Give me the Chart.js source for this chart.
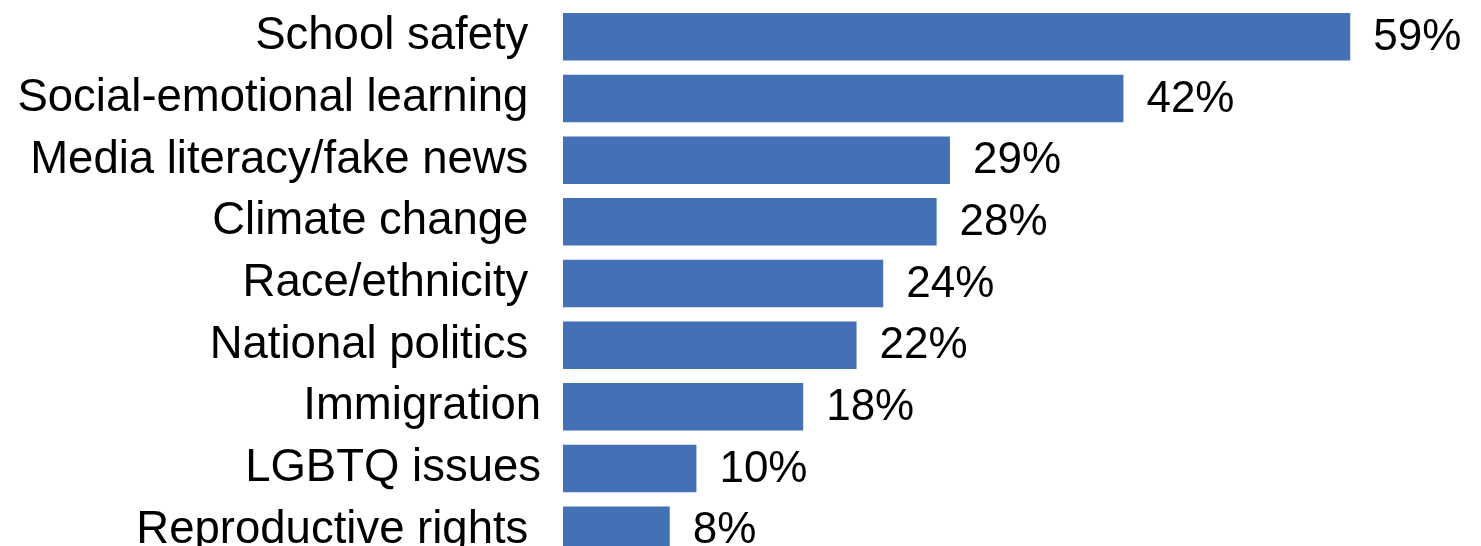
<!DOCTYPE html>
<html lang="en">
<head>
  <meta charset="UTF-8">
  <title>Topics</title>
  <script src="https://cdn.jsdelivr.net/npm/chart.js"></script>
  <style>
    html, body {
      margin: 0;
      padding: 0;
      background: #fff;
      overflow: hidden;
    }
    canvas {
      display: block;
    }
  </style>
</head>
<body>
  <canvas id="topicChart" width="1481" height="561"></canvas>

  <script>
    // some labels keep a trailing space, so they sit a little further left
    const topics = [
      'School safety ',
      'Social-emotional learning ',
      'Media literacy/fake news ',
      'Climate change ',
      'Race/ethnicity ',
      'National politics ',
      'Immigration',
      'LGBTQ issues',
      'Reproductive rights '
    ];
    const shares = [59, 42, 29, 28, 24, 22, 18, 10, 8];
    const xMax = 68.8;

    const barBlue = '#4470b6';
    const fontFamily = '"Liberation Sans", Arial, sans-serif';

    // percentage printed to the right of each bar
    const valueLabels = {
      id: 'valueLabels',
      afterDatasetsDraw(chart) {
        const ctx = chart.ctx;
        const meta = chart.getDatasetMeta(0);
        ctx.save();
        ctx.font = '44px ' + fontFamily;
        ctx.fillStyle = '#000';
        ctx.textAlign = 'left';
        ctx.textBaseline = 'middle';
        meta.data.forEach((bar, i) => {
          ctx.fillText(shares[i] + '%', bar.x + 23, bar.y + 1);
        });
        ctx.restore();
      }
    };

    new Chart(topicChart, {
      type: 'bar',
      data: {
        labels: topics,
        datasets: [{
          data: shares,
          backgroundColor: barBlue,
          borderWidth: 0,
          categoryPercentage: 1,
          barPercentage: 0.77
        }]
      },
      options: {
        indexAxis: 'y',
        responsive: false,
        animation: false,
        layout: { padding: { top: 6, right: 0, bottom: 0, left: 0 } },
        plugins: {
          legend: { display: false },
          tooltip: { enabled: false }
        },
        scales: {
          x: {
            display: false,
            min: 0,
            max: xMax
          },
          y: {
            afterFit(scale) {
              // fixed label column, and no extra room for the big tick font
              scale.width = 563;
              scale.paddingTop = 0;
              scale.paddingBottom = 0;
            },
            grid: { display: false, drawTicks: false },
            border: { display: false },
            ticks: {
              padding: 22,
              color: '#000',
              autoSkip: false,
              font: { family: fontFamily, size: 45.5 }
            }
          }
        }
      },
      plugins: [valueLabels]
    });
  </script>
</body>
</html>
